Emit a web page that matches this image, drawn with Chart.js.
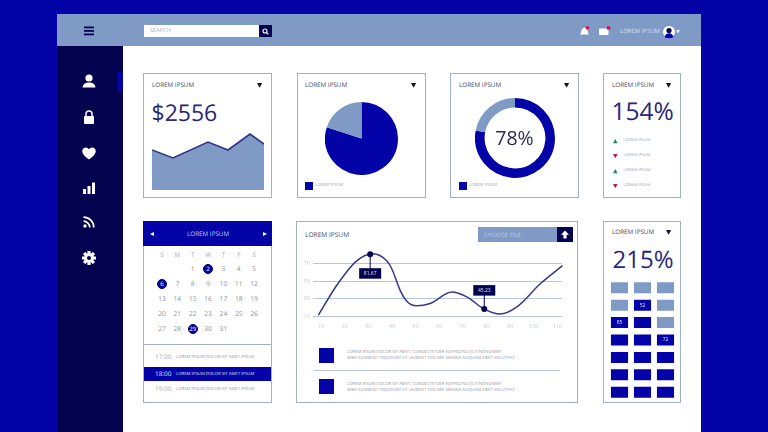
<!DOCTYPE html>
<html><head><meta charset="utf-8">
<script src="https://cdn.jsdelivr.net/npm/chart.js@4"></script>
<style>
html,body{margin:0;padding:0;width:768px;height:432px;overflow:hidden;background:#0303a8;font-family:"Open Sans",sans-serif}
#root{position:relative;width:768px;height:432px;overflow:hidden;filter:blur(0.7px);will-change:filter;text-rendering:geometricPrecision}
.b{position:absolute;box-sizing:border-box}
.t{position:absolute;white-space:nowrap;transform:translateY(-50%);line-height:1}
canvas{position:absolute;display:block}
svg{position:absolute;overflow:visible}
</style></head><body><div id="root"></div>
<script>
// ---- data ----
const areaX=[0,21,56,76,98,112];
const areaY=[40,32,48,40,56,46];
const pieValues=[80,20];
const pieLabels=['LOREM IPSUM','OTHER'];
const donutValues=[78,22];
const lineX=[8.9,16.6,25.1,32,37.8,40,43.5,46.3,50.5,56.2,65.4,71.7,79.1,85.8,92.9,102.8,112.2];
const lineY=[11.1,45.1,73.4,81.5,73.4,64,39.4,27,21.7,24.4,37.5,31.9,17.9,12.3,20.5,47,67.8];
const lineXTicks=[10,20,30,40,50,60,70,80,90,100,110];
const lineYTicks=[10,30,50,70];
const lineYLabels=['10','30','50','70'];
const markerX=[30.8,79.1];
const markerY=[81,17.9];
const markerText=['81,67','45,23'];
const gridRows=['R1','R2','R3','R4','R5','R6','R7'];
const gridCols=['A','B','C'];
const gridShade=[[0,0,0],[0,1,0],[1,1,0],[1,1,1],[1,1,1],[1,1,1],[1,1,1]];
const gridText=[['','',''],['','52',''],['85','',''],['','','72'],['','',''],['','',''],['','','']];
const weekDays=['S','M','T','W','T','F','S'];
const calWeeks=[[null,null,1,2,3,4,5],[6,7,8,9,10,11,12],[13,14,15,16,17,18,19],[20,21,22,23,24,25,26],[27,28,29,30,31,null,null]];
const calMarked=[2,6,29];
const times=['17:00','18:00','19:00'];
const trend=[1,-1,1,-1];
// ---- palette ----
const BLUE='#0303a8',NAVY='#02024f',STEEL='#7f9ac5',EDGE='#a0b0ce',INK='#27287a',TXT='#4a4d60',GREY='#8f94a3',PALE='#c3cddf';
const root=document.getElementById('root');
function box(x,y,w,h,bg,extra){const d=document.createElement('div');d.className='b';d.style.cssText=`left:${x}px;top:${y}px;width:${w}px;height:${h}px;background:${bg};${extra||''}`;root.appendChild(d);return d;}
function text(x,y,s,size,color,extra){const d=document.createElement('div');d.className='t';d.textContent=s;d.style.cssText=`left:${x}px;top:${y}px;font-size:${size}px;color:${color};${extra||''}`;root.appendChild(d);return d;}
function ctext(x,y,s,size,color,extra){return text(x,y,s,size,color,'transform:translate(-50%,-50%);'+(extra||''));}
function svg(x,y,w,h,inner){const n='http://www.w3.org/2000/svg';const e=document.createElementNS(n,'svg');e.setAttribute('width',w);e.setAttribute('height',h);e.setAttribute('viewBox',`0 0 ${w} ${h}`);e.style.left=x+'px';e.style.top=y+'px';e.innerHTML=inner;root.appendChild(e);return e;}
function canvas(x,y,w,h){const c=document.createElement('canvas');c.width=w;c.height=h;c.style.cssText=`left:${x}px;top:${y}px;width:${w}px;height:${h}px`;root.appendChild(c);return c;}
function tri(x,y,down,color,s){s=s||3.2;const p=down?`0,0 ${s*2},0 ${s},${s*1.8}`:`${s},0 ${s*2},${s*1.8} 0,${s*1.8}`;svg(x-s,y-s*0.9,s*2,s*1.8,`<polygon points="${p}" fill="${color}"/>`);}

// ---- frame ----
box(57,14,644,418,'#fff');
box(57,14,644,32,STEEL);
box(57,46,66,386,NAVY);
box(117,72,6,19,BLUE);
// hamburger
svg(84,26,10,10,`<g fill="${NAVY}"><rect y="0.5" width="10" height="1.8"/><rect y="4" width="10" height="1.8"/><rect y="7.5" width="10" height="1.8"/></g>`);
// search
box(144,25,115,12,'#fff');
box(259,25,13,12,NAVY);
text(150,31.2,'SEARCH',5.6,'#a8b0c2');
svg(262,28,7,7,`<circle cx="3" cy="3" r="2" fill="none" stroke="#fff" stroke-width="1.1"/><line x1="4.5" y1="4.5" x2="6.3" y2="6.3" stroke="#fff" stroke-width="1.2"/>`);
// sidebar icons
svg(82,74,14,14,`<circle cx="7" cy="4" r="3.6" fill="#fff"/><path d="M0.5 13.5 C1 9.5 4 8.5 7 8.5 C10 8.5 13 9.5 13.5 13.5Z" fill="#fff"/>`);
svg(83,110,12,14,`<path d="M3 6.5V4a3 3 0 0 1 6 0v2.5" fill="none" stroke="#fff" stroke-width="1.5"/><rect x="1" y="6" width="10" height="8" rx="1" fill="#fff"/>`);
svg(82,147,14,13,`<path d="M7 12.5C2 9 0.3 6.5 0.3 4 0.3 1.8 2 .5 3.8 .5 5.2 .5 6.4 1.3 7 2.5 7.6 1.3 8.8 .5 10.2 .5 12 .5 13.7 1.8 13.7 4 13.7 6.5 12 9 7 12.5Z" fill="#fff"/>`);
svg(83,182,12,12,`<g fill="#fff"><rect x="0" y="7" width="3" height="5"/><rect x="4.5" y="4" width="3" height="8"/><rect x="9" y="0.5" width="3" height="11.5"/></g>`);
svg(83,216,12,12,`<circle cx="2" cy="10" r="1.7" fill="#fff"/><path d="M0.5 5.2a6.3 6.3 0 0 1 6.3 6.3" fill="none" stroke="#fff" stroke-width="1.7"/><path d="M0.5 1.2a10.3 10.3 0 0 1 10.3 10.3" fill="none" stroke="#fff" stroke-width="1.7"/>`);
svg(82,251,14,14,`<g transform="translate(7 7)"><g fill="#fff">${[0,45,90,135].map(a=>`<rect x="-1.6" y="-7" width="3.2" height="14" rx="0.5" transform="rotate(${a})"/>`).join('')}</g><circle r="4.8" fill="#fff"/><circle r="2" fill="${NAVY}"/></g>`);
// top right
svg(579,26,11,10,`<path d="M1 8.5C2.5 7 2 3.5 3.5 2.5 4.8 1.5 6.5 1.5 7.5 2.5 9 3.5 8.5 7 10 8.5Z" fill="#fff"/><circle cx="8.5" cy="1.8" r="1.9" fill="#d2195c"/>`);
svg(599,26,12,10,`<rect x="0" y="2.5" width="9.5" height="6.5" rx="0.6" fill="#fff"/><circle cx="9.5" cy="2" r="2" fill="#d2195c"/>`);
text(620,31.5,'LOREM IPSUM',5.8,'#d9e1ef','letter-spacing:.1px');
svg(663,26,12,12,`<circle cx="6" cy="6" r="6" fill="#fff"/><circle cx="6" cy="4.6" r="2.6" fill="${NAVY}"/><path d="M1.5 11C2.5 8 4 7.2 6 7.2 8 7.2 9.5 8 10.5 11 8 12.6 4 12.6 1.5 11Z" fill="${BLUE}"/>`);
tri(678,32,true,'#e3e9f3',2);

// ---- cards ----
const cb=`border:1.5px solid ${EDGE}`;
box(143,73,129,125,'#fff',cb);
box(297,73,129,125,'#fff',cb);
box(450,73,129,125,'#fff',cb);
box(603,73,78,125,'#fff',cb);
box(143,221,129,182,'#fff',cb);
box(296,221,282,182,'#fff',cb);
box(603,221,78,182,'#fff',cb);
function head(x,y,tx){text(x,y,'LOREM IPSUM',6.3,TXT);tri(tx,y,true,'#15152a',2.6);}
head(152,85,260);head(305,85,414);head(459,85,567);head(612,85,669);head(612,232,669);
text(151.5,112,'$2556',23,INK);
text(611.5,112,'154%',24.5,INK);
text(612.5,259.5,'215%',24,INK);
// trend list
trend.forEach((d,i)=>{const y=141+i*15;tri(615,y,d<0,d>0?'#23865a':'#c4174f',2.3);text(623.5,y,'LOREM IPSUM',4,'#9da2af');});
// legends
box(305,182,8,8,BLUE);text(315,186,pieLabels[0],4.2,'#9da2af');
box(459,182,8,8,BLUE);text(469,186,pieLabels[0],4.2,'#9da2af');

Chart.defaults.animation=false;
Chart.defaults.responsive=false;
Chart.defaults.plugins.legend.display=false;
Chart.defaults.plugins.tooltip.enabled=false;

// area
new Chart(canvas(152,128,112,62),{type:'line',data:{datasets:[{data:areaX.map((x,i)=>({x,y:areaY[i]})),fill:'origin',backgroundColor:STEEL,borderColor:'#2b3587',borderWidth:1.6,pointRadius:0,tension:0}]},
 options:{layout:{padding:0},scales:{x:{type:'linear',display:false,min:0,max:112},y:{display:false,min:0,max:62}}}});
// pie
new Chart(canvas(325,102,73,73),{type:'pie',data:{labels:pieLabels,datasets:[{data:pieValues,backgroundColor:[BLUE,STEEL],borderWidth:0}]},options:{layout:{padding:0}}});
// donut
new Chart(canvas(475,98,80,80),{type:'doughnut',data:{datasets:[{data:donutValues,backgroundColor:[BLUE,STEEL],borderWidth:0}]},options:{cutout:'76%',layout:{padding:0}}});
ctext(514.5,138,donutValues[0]+'%',19.5,'#2b2d55');

// line
const callout={id:'callout',afterDatasetsDraw(c){const g=c.ctx,X=c.scales.x,Y=c.scales.y;
 markerX.forEach((v,i)=>{const px=X.getPixelForValue(v),py=Y.getPixelForValue(markerY[i]);
  const below=py<c.chartArea.top+40;const bx=px,by=below?py+19:py-19;
  g.strokeStyle=NAVY;g.lineWidth=1;g.beginPath();g.moveTo(px,py);g.lineTo(px,by);g.stroke();
  g.fillStyle=NAVY;g.beginPath();g.arc(px,py,3,0,7);g.fill();
  g.fillRect(bx-11,by-5,22,10.5);
  g.fillStyle='#dfe5f0';g.font='5px "Open Sans"';g.textAlign='center';g.textBaseline='middle';g.fillText(markerText[i],bx,by+.3);
 });}};
new Chart(canvas(296,240,280,100),{type:'line',data:{datasets:[{data:lineX.map((x,i)=>({x,y:lineY[i]})),borderColor:'#37378c',borderWidth:1.5,pointRadius:0,cubicInterpolationMode:'monotone',clip:false}]},
 plugins:[callout],
 options:{layout:{padding:{top:5.4,right:14,bottom:0,left:0}},
  scales:{
   x:{type:'linear',min:6.6,max:112,afterBuildTicks(s){s.ticks=lineXTicks.map(value=>({value}));},afterFit(s){s.height=24;},
      grid:{display:false,drawTicks:false},border:{display:false},ticks:{maxRotation:0,autoSkip:false,color:PALE,font:{size:5.6,family:'"Open Sans"'},padding:7}},
   y:{min:10,max:90,afterBuildTicks(s){s.ticks=lineYTicks.map(value=>({value}));},afterFit(s){s.width=17;},
      grid:{color:'#b9c6db',lineWidth:1,drawTicks:false},border:{display:false},
      ticks:{color:PALE,font:{size:5.6,family:'"Open Sans"'},padding:3,callback:v=>lineYLabels[lineYTicks.indexOf(v)]}}
  }}});
text(305,235,'LOREM IPSUM',6.6,TXT);
box(478,227,79,15,STEEL);
box(557,227,16,15,NAVY);
text(484,234.7,'CHOOSE FILE',6,'#bccae0');
svg(561,230,8,9,`<path d="M4 0.5L8 4.8H5.6V8.5H2.4V4.8H0Z" fill="#fff"/>`);
box(319,348,15,15,BLUE);box(319,379,15,15,BLUE);
box(314,370,246,1,'#b9c6db');
const L1='LOREM IPSUM DOLOR SIT AMET, CONSECTETUER ADIPISCING ELIT NONUMMY';
const L2='NIBH EUISMOD TINCIDUNT UT LAOREET DOLORE MAGNA ALIQUAM ERAT VOLUTPAT';
[[352,358],[384,390]].forEach(r=>{text(347,r[0],L1,4.25,GREY);text(347,r[1],L2,4.25,GREY);});

// calendar
box(143,221,129,25,BLUE);
text(187,234,'LOREM IPSUM',6.3,'#b9c9ea');
svg(150,232,4,4,`<polygon points="4,0 4,4 0,2" fill="#fff"/>`);
svg(263,232,4,4,`<polygon points="0,0 4,2 0,4" fill="#fff"/>`);
const cx=i=>162+i*15.35;
weekDays.forEach((d,i)=>ctext(cx(i),255,d,6.3,'#a9adb8'));
calWeeks.forEach((w,r)=>w.forEach((d,i)=>{if(d==null)return;const y=269+r*15;
 if(calMarked.includes(d)){box(cx(i)-5.2,y-5.2,10.4,10.4,BLUE,`border-radius:50%;border:1px solid ${NAVY}`);ctext(cx(i),y,d,6,'#fff');}
 else ctext(cx(i),y,d,6.6,'#8e929d');}));
box(143,343.5,129,1.5,EDGE);
box(144,367,127,14,BLUE);
times.forEach((t,i)=>{const y=357+i*16.5-(i==2?1:0);const on=i==1;
 text(155,y,t,6.4,on?'#e4e9f5':'#a2a6b1');
 text(176,y,'LOREM IPSUM DOLOR SIT AMET IPSUM',4.3,on?'#dbe2f2':GREY);});

// grid
const cellLabels={id:'cellLabels',afterDatasetsDraw(c){const g=c.ctx;g.fillStyle='#dfe6f4';g.font='5px "Open Sans"';g.textAlign='center';g.textBaseline='middle';
 c.data.datasets.forEach((ds,r)=>c.getDatasetMeta(r).data.forEach((el,k)=>{const s=gridText[r][k];if(s)g.fillText(s,el.x,(el.y+el.base)/2);}));}};
new Chart(canvas(608,279,69,122),{type:'bar',plugins:[cellLabels],data:{labels:gridCols,datasets:gridRows.map((n,r)=>({label:n,data:gridCols.map(()=>1),stack:'s',
  backgroundColor:gridShade[r].map(v=>v?BLUE:STEEL),borderColor:'#fff',borderWidth:{top:3.2,bottom:3.2,left:0,right:0},borderSkipped:false,categoryPercentage:1,barPercentage:0.76}))},
 options:{layout:{padding:0},scales:{x:{display:false,stacked:true},y:{display:false,stacked:true,reverse:true,min:0,max:gridRows.length}}}});
</script></body></html>
